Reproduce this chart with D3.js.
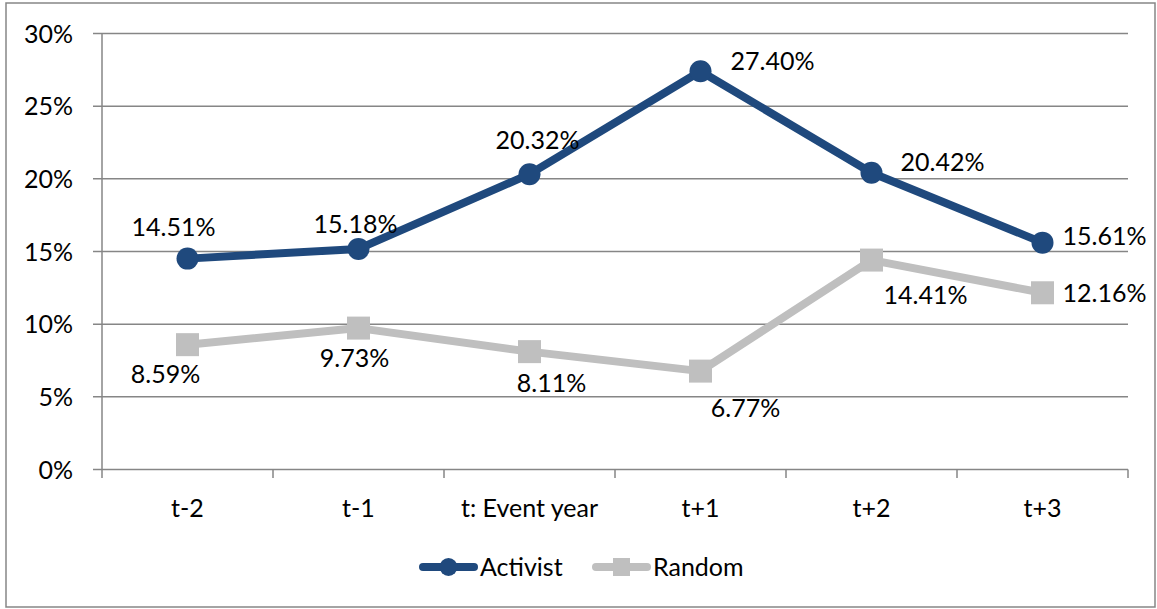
<!DOCTYPE html>
<html>
<head>
<meta charset="utf-8">
<script src="https://cdn.jsdelivr.net/npm/d3@7"></script>
<style>
  body { margin: 0; background: #fff; }
  text { font-family: Lato, "Open Sans", sans-serif; fill: #000; }
</style>
</head>
<body>
<svg width="1157" height="609"></svg>
<script>
// categories and series (percent)
var periods = ["t-2", "t-1", "t: Event year", "t+1", "t+2", "t+3"];
var activist = [14.51, 15.18, 20.32, 27.40, 20.42, 15.61];
var random = [8.59, 9.73, 8.11, 6.77, 14.41, 12.16];
var yTicks = [0, 5, 10, 15, 20, 25, 30];

// hand placed label nudges (dx, dy) like the original chart
var activistNudge = [[-14, -32], [-3, -25], [8, -34], [72, -10], [71, -11], [62, -7]];
var randomNudge = [[-22, 29], [-4, 30], [22, 31], [45, 37], [54, 35], [62, 0]];

var svg = d3.select("svg");
var grid = "#868686";
var blue = "#1F497D", grey = "#BFBFBF";

//outer border
svg.append("rect")
    .attr("x", 6).attr("y", 3)
    .attr("width", 1149).attr("height", 604)
    .attr("fill", "none")
    .attr("stroke", grid)
    .attr("stroke-width", 1.5);

var x = d3.scaleBand()
    .domain(periods)
    .range([102, 1128]);

var y = d3.scaleLinear()
    .domain([0, 30])
    .range([469.5, 33.5]);

//gridlines + y ticks
svg.append("g")
    .selectAll("line")
    .data(yTicks)
    .enter().append("line")
    .attr("x1", 93).attr("x2", 1128)
    .attr("y1", function(d) { return y(d); })
    .attr("y2", function(d) { return y(d); })
    .attr("stroke", grid)
    .attr("stroke-width", 1.5);

svg.append("g")
    .selectAll("text")
    .data(yTicks)
    .enter().append("text")
    .attr("x", 73)
    .attr("y", function(d) { return y(d); })
    .attr("dy", "0.36em")
    .attr("text-anchor", "end")
    .attr("font-size", 25)
    .text(function(d) { return d + "%"; });

//y axis line
svg.append("line")
    .attr("x1", 102).attr("x2", 102)
    .attr("y1", y(30)).attr("y2", 478)
    .attr("stroke", grid)
    .attr("stroke-width", 1.5);

//x ticks at category boundaries
var bounds = periods.map(function(p) { return x(p) + x.bandwidth(); });
svg.append("g")
    .selectAll("line")
    .data(bounds)
    .enter().append("line")
    .attr("x1", function(d) { return d; })
    .attr("x2", function(d) { return d; })
    .attr("y1", y(0)).attr("y2", 478)
    .attr("stroke", grid)
    .attr("stroke-width", 1.5);

svg.append("g")
    .selectAll("text")
    .data(periods)
    .enter().append("text")
    .attr("x", function(d) { return x(d) + x.bandwidth() / 2; })
    .attr("y", 508)
    .attr("dy", "0.36em")
    .attr("text-anchor", "middle")
    .attr("font-size", 25)
    .text(function(d) { return d; });

var cx = function(d, i) { return x(periods[i]) + x.bandwidth() / 2; };
var line = d3.line()
    .x(function(d, i) { return cx(d, i); })
    .y(function(d) { return y(d); });

function drawSeries(values, color, shape, nudge) {
    var g = svg.append("g");
    g.append("path")
        .datum(values)
        .attr("d", line)
        .attr("fill", "none")
        .attr("stroke", color)
        .attr("stroke-width", 8)
        .attr("stroke-linejoin", "round");

    if (shape === "circle") {
        g.selectAll("circle")
            .data(values)
            .enter().append("circle")
            .attr("cx", cx)
            .attr("cy", function(d) { return y(d); })
            .attr("r", 11)
            .attr("fill", color);
    } else {
        g.selectAll("rect")
            .data(values)
            .enter().append("rect")
            .attr("x", function(d, i) { return cx(d, i) - 11.5; })
            .attr("y", function(d) { return y(d) - 11.5; })
            .attr("width", 23).attr("height", 23)
            .attr("fill", color);
    }

    g.selectAll("text")
        .data(values)
        .enter().append("text")
        .attr("x", function(d, i) { return cx(d, i) + nudge[i][0]; })
        .attr("y", function(d, i) { return y(d) + nudge[i][1]; })
        .attr("dy", "0.36em")
        .attr("text-anchor", "middle")
        .attr("font-size", 25)
        .text(function(d) { return d.toFixed(2) + "%"; });
}

drawSeries(random, grey, "square", randomNudge);
drawSeries(activist, blue, "circle", activistNudge);

//legend
var legend = svg.append("g").attr("transform", "translate(0,567)");
var items = [
    {name: "Activist", color: blue, shape: "circle", x: 419},
    {name: "Random", color: grey, shape: "square", x: 592}
];
items.forEach(function(it) {
    legend.append("line")
        .attr("x1", it.x + 4).attr("x2", it.x + 55)
        .attr("y1", 0).attr("y2", 0)
        .attr("stroke", it.color)
        .attr("stroke-width", 8)
        .attr("stroke-linecap", "round");
    if (it.shape === "circle") {
        legend.append("circle")
            .attr("cx", it.x + 29.5).attr("cy", 0).attr("r", 9)
            .attr("fill", it.color);
    } else {
        legend.append("rect")
            .attr("x", it.x + 21).attr("y", -9)
            .attr("width", 17).attr("height", 18)
            .attr("fill", it.color);
    }
    legend.append("text")
        .attr("x", it.x + 61)
        .attr("y", 0)
        .attr("dy", "0.36em")
        .attr("font-size", 25)
        .text(it.name);
});
</script>
</body>
</html>
